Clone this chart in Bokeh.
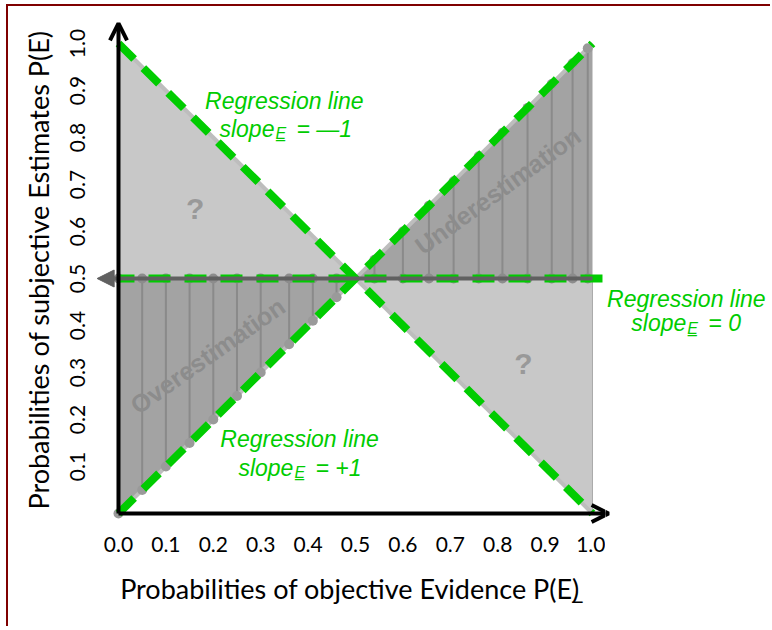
from bokeh.plotting import figure
from bokeh.layouts import row
from bokeh.models import Label, Arrow, OpenHead, NormalHead, FixedTicker, Range1d
from bokeh.embed import file_html
from bokeh.resources import INLINE

# ---------------- data ----------------
x_ticks = [0.0, 0.1, 0.2, 0.3, 0.4, 0.5, 0.6, 0.7, 0.8, 0.9, 1.0]
x_tick_labels = ["0.0", "0.1", "0.2", "0.3", "0.4", "0.5", "0.6", "0.7", "0.8", "0.9", "1.0"]
y_ticks = [0.1, 0.2, 0.3, 0.4, 0.5, 0.6, 0.7, 0.8, 0.9, 1.0]
y_tick_labels = ["0.1", "0.2", "0.3", "0.4", "0.5", "0.6", "0.7", "0.8", "0.9", "1.0"]

# shaded regions
light_ul_x = [0.0, 0.0, 0.5]
light_ul_y = [1.0, 0.5, 0.5]
light_lr_x = [0.5, 1.0, 1.0]
light_lr_y = [0.5, 0.5, 0.0]
dark_ll_x = [0.0, 0.5, 0.0]
dark_ll_y = [0.5, 0.5, 0.0]
dark_ur_x = [0.5, 1.0, 1.0]
dark_ur_y = [0.5, 1.0, 0.5]

# observations (overestimation / underestimation)
over_x = [0.0, 0.05, 0.10, 0.15, 0.20, 0.25, 0.30, 0.36, 0.41, 0.46]
over_y = [0.0, 0.05, 0.10, 0.15, 0.20, 0.25, 0.30, 0.36, 0.41, 0.46]
under_x = [0.54, 0.60, 0.655, 0.707, 0.76, 0.81, 0.863, 0.914, 0.958, 0.99]
under_y = [0.54, 0.60, 0.655, 0.707, 0.76, 0.81, 0.863, 0.914, 0.958, 0.99]
mid_level = 0.5

# regression lines
reg_neg_x = [0.0, 1.0]
reg_neg_y = [1.0, 0.0]
reg_pos_x = [0.0, 1.0]
reg_pos_y = [0.0, 1.0]
reg_flat_x = [0.0, 1.03]
reg_flat_y = [0.5, 0.5]

# regression labels (title centre x, title baseline y, "slope" end x, slope baseline y, value)
reg_label_cx = [0.350, 1.198, 0.382]
reg_label_title_y = [0.8787, 0.4574, 0.1596]
reg_label_anchor_x = [0.329, 1.198, 0.369]
reg_label_slope_y = [0.8191, 0.4043, 0.0979]
reg_label_value = ["= \u20141", "= 0", "= +1"]

GREEN = "#00cc00"
GREEN_FONT = "Liberation Sans"

Y0, Y1 = -0.0255, 1.0617
XSPLIT = 1.02743

# ---------------- main figure ----------------
p = figure(width=605, height=626, output_backend="svg", toolbar_location=None,
           x_range=Range1d(-0.0506, XSPLIT), y_range=Range1d(Y0, Y1),
           min_border_left=94, min_border_right=0, min_border_top=14, min_border_bottom=101)
p.styles = {"box-shadow": "inset 6px 4px 0px 0px #ffffff, inset 8px 6px 0px 0px #7f0000",
            "background-color": "#ffffff"}
p.grid.visible = False
p.outline_line_color = None
p.background_fill_color = "white"
p.border_fill_color = None

for ax in (p.xaxis[0], p.yaxis[0]):
    ax.axis_line_color = None
    ax.major_tick_line_color = None
    ax.minor_tick_line_color = None
    ax.major_label_text_font = "Lato"
    ax.major_label_text_font_size = "21px"
    ax.major_label_text_color = "black"
    ax.axis_label_text_font = "Lato"
    ax.axis_label_text_font_size = "27px"
    ax.axis_label_text_font_style = "normal"
    ax.axis_label_text_color = "black"

p.xaxis.ticker = FixedTicker(ticks=x_ticks)
p.xaxis.major_label_overrides = {t: l for t, l in zip(x_ticks, x_tick_labels)}
p.xaxis.major_label_standoff = 5
p.xaxis.axis_label = "Probabilities of objective Evidence P(E\u0332)"
p.xaxis.axis_label_standoff = 17

p.yaxis.ticker = FixedTicker(ticks=y_ticks)
p.yaxis.major_label_overrides = {t: l for t, l in zip(y_ticks, y_tick_labels)}
p.yaxis.major_label_orientation = "parallel"
p.yaxis.major_label_standoff = 3
p.yaxis.axis_label = "Probabilities of subjective Estimates P(E)"
p.yaxis.axis_label_standoff = 13

# ---------------- right-hand text panel (same scales) ----------------
p2 = figure(width=165, height=626, output_backend="svg", toolbar_location=None,
            x_range=Range1d(XSPLIT, 1.37553), y_range=Range1d(Y0, Y1),
            x_axis_type=None, y_axis_type=None,
            min_border_left=0, min_border_right=0, min_border_top=14, min_border_bottom=101)
p2.styles = {"box-shadow": "inset 0px 4px 0px 0px #ffffff, inset 0px 6px 0px 0px #7f0000",
             "background-color": "#ffffff"}
p2.grid.visible = False
p2.outline_line_color = None
p2.background_fill_color = "white"
p2.border_fill_color = None

# regions
p.patch(light_ul_x, light_ul_y, fill_color="#c8c8c8", line_color="#aaaaaa", line_width=1)
p.patch(light_lr_x, light_lr_y, fill_color="#c8c8c8", line_color="#aaaaaa", line_width=1)
p.patch(dark_ll_x, dark_ll_y, fill_color="#a3a3a3", line_color=None)
p.patch(dark_ur_x, dark_ur_y, fill_color="#a3a3a3", line_color=None)

# drop lines
p.segment(x0=over_x, y0=over_y, x1=over_x, y1=[mid_level] * len(over_x),
          line_color="#8a8a8a", line_width=2)
p.segment(x0=under_x, y0=under_y, x1=under_x, y1=[mid_level] * len(under_x),
          line_color="#8a8a8a", line_width=2)

# thin guide lines under the green lines
p.line(reg_neg_x, reg_neg_y, line_color="#bdbdbd", line_width=4)
p.line(reg_pos_x, reg_pos_y, line_color="#bdbdbd", line_width=4)

# mid horizontal gray line with left arrow
p.add_layout(Arrow(x_start=1.0, y_start=mid_level, x_end=-0.045, y_end=mid_level,
                   line_color="#606060", line_width=4,
                   end=NormalHead(size=17, fill_color="#606060", line_color="#606060")))

# dots
p.scatter(over_x, over_y, size=10, fill_color="#9a9a9a", line_color=None)
p.scatter(under_x, under_y, size=10, fill_color="#9a9a9a", line_color=None)
p.scatter(over_x, [mid_level] * len(over_x), size=10, fill_color="#8c8c8c", line_color=None)
p.scatter(under_x, [mid_level] * len(under_x), size=10, fill_color="#8c8c8c", line_color=None)

# green regression lines
for fig in (p, p2):
    for xs, ys in ((reg_neg_x, reg_neg_y), (reg_pos_x, reg_pos_y)):
        fig.line(xs, ys, line_color=GREEN, line_width=8, line_dash="22 13", line_cap="butt")
    fig.line(reg_flat_x, reg_flat_y, line_color=GREEN, line_width=8, line_dash="22 14",
             line_dash_offset=6, line_cap="butt")

# axis arrows (drawn in both panels so the head is complete across the seam)
for fig in (p, p2):
    fig.add_layout(Arrow(x_start=0, y_start=0, x_end=0, y_end=1.043, line_color="black",
                         line_width=4, end=OpenHead(size=17, line_color="black", line_width=4)))
    fig.add_layout(Arrow(x_start=0, y_start=0, x_end=1.034, y_end=0, line_color="black",
                         line_width=4, end=OpenHead(size=17, line_color="black", line_width=4)))

# region texts
def lab(fig, x, y, text, **kw):
    fig.add_layout(Label(x=x, y=y, text=text, **kw))

lab(p, 0.162, 0.649, "?", text_font="Liberation Sans", text_font_style="bold",
    text_font_size="30px", text_color="#999999", text_align="center", text_baseline="middle")
lab(p, 0.854, 0.319, "?", text_font="Liberation Sans", text_font_style="bold",
    text_font_size="30px", text_color="#999999", text_align="center", text_baseline="middle")
lab(p, 0.80, 0.687, "Underestimation", text_font="Liberation Sans", text_font_style="bold",
    text_font_size="25px", text_color="#8c8c8c", text_align="center", text_baseline="middle",
    angle=36, angle_units="deg")
lab(p, 0.188, 0.336, "Overestimation", text_font="Liberation Sans", text_font_style="bold",
    text_font_size="25px", text_color="#8c8c8c", text_align="center", text_baseline="middle",
    angle=35, angle_units="deg")

for cx, ty, ax_, sy, val in zip(reg_label_cx, reg_label_title_y, reg_label_anchor_x,
                                reg_label_slope_y, reg_label_value):
    fig = p2 if cx > XSPLIT else p
    common = dict(text_font=GREEN_FONT, text_font_style="italic", text_color=GREEN,
                  text_baseline="alphabetic")
    lab(fig, cx, ty, "Regression line", text_font_size="23px", text_align="center", **common)
    lab(fig, ax_, sy, "slope", text_font_size="23px", text_align="right", **common)
    lab(fig, ax_, sy - 0.0106, "E\u0332", text_font_size="16px", text_align="left", x_offset=1,
        **common)
    lab(fig, ax_, sy, val, text_font_size="23px", text_align="left", x_offset=22, **common)

layout = row(p, p2)
open("out.html", "w").write(file_html(layout, INLINE))
